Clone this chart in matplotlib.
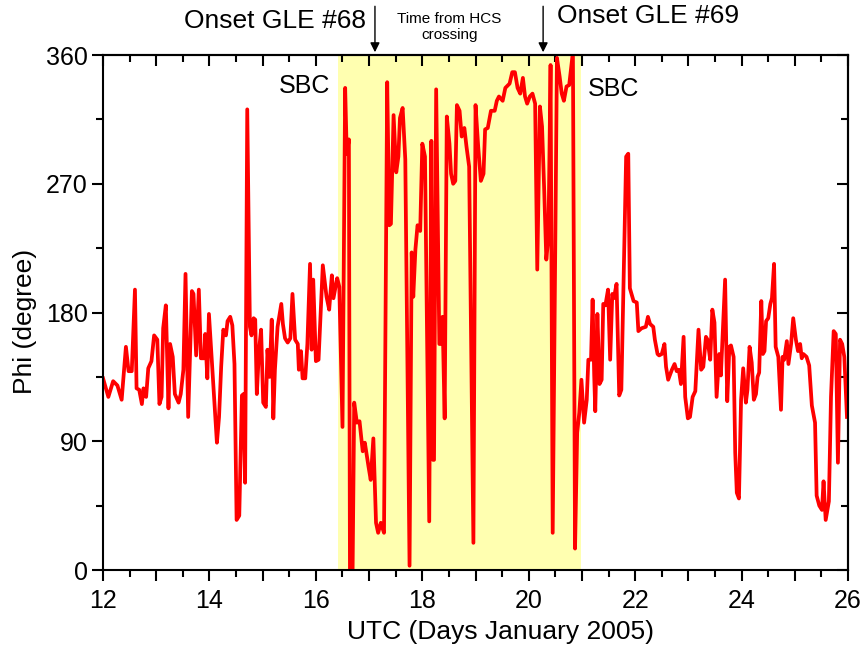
import matplotlib

matplotlib.use("Agg")
import matplotlib.pyplot as plt
from matplotlib.ticker import MultipleLocator, FuncFormatter

plt.rcParams["font.family"] = ["Liberation Sans", "DejaVu Sans"]

# IMF azimuth angle (days of January 2005, degrees)
days = [
    12.00, 12.10, 12.19, 12.27, 12.35, 12.43, 12.48, 12.54, 12.60, 12.63, 12.68, 12.73, 12.76,
    12.81, 12.85, 12.91, 12.96, 13.02, 13.06, 13.10, 13.13, 13.18, 13.23, 13.26, 13.31, 13.35,
    13.42, 13.46, 13.51, 13.55, 13.60, 13.67, 13.70, 13.75, 13.80, 13.84, 13.90, 13.92, 13.96,
    13.99,
    14.14, 14.18, 14.22, 14.26, 14.31, 14.34, 14.39, 14.43, 14.47, 14.51, 14.56, 14.61, 14.64,
    14.67, 14.71, 14.76, 14.79, 14.83, 14.86, 14.89, 14.93, 14.97, 15.01, 15.06, 15.09, 15.13,
    15.17, 15.20, 15.23, 15.28, 15.35, 15.38, 15.42, 15.47, 15.52, 15.56, 15.61, 15.66, 15.68,
    15.72, 15.75, 15.80, 15.84,
    15.89, 15.92, 15.95, 16.00, 16.05, 16.13, 16.20, 16.25, 16.30, 16.33, 16.36, 16.40, 16.44,
    16.50, 16.55, 16.58, 16.62, 16.64, 16.69, 16.72, 16.77, 16.82, 16.88, 16.92, 16.99, 17.03,
    17.08, 17.13, 17.17, 17.22, 17.28, 17.34, 17.38, 17.41, 17.46, 17.51, 17.55, 17.58, 17.63,
    17.68, 17.76, 17.80, 17.83, 17.87, 17.91,
    17.96, 18.00, 18.05, 18.13, 18.17, 18.20, 18.22, 18.26, 18.32, 18.35, 18.38, 18.42, 18.46,
    18.51, 18.54, 18.58, 18.62, 18.65, 18.70, 18.74, 18.79, 18.83, 18.88, 18.96, 19.00, 19.05,
    19.10, 19.15, 19.18, 19.23, 19.29, 19.36, 19.40, 19.44, 19.51, 19.56, 19.64, 19.69, 19.74,
    19.79, 19.84,
    19.89, 19.93, 19.97, 20.02, 20.07, 20.12, 20.16, 20.21, 20.25, 20.29, 20.33, 20.37, 20.41,
    20.45, 20.53, 20.58, 20.62, 20.66, 20.71, 20.76, 20.83, 20.87, 20.91, 20.95, 20.99, 21.04,
    21.09, 21.12, 21.17, 21.20, 21.23, 21.25, 21.29, 21.33, 21.37, 21.40, 21.44, 21.49, 21.53,
    21.57, 21.60, 21.65, 21.70, 21.74, 21.83, 21.87,
    21.90, 21.97, 22.03, 22.06, 22.12, 22.20, 22.24, 22.28, 22.34, 22.37, 22.42, 22.45, 22.50,
    22.55, 22.58, 22.62, 22.69, 22.74, 22.78, 22.82, 22.86, 22.91, 22.94, 22.99, 23.03, 23.08,
    23.13, 23.19, 23.24, 23.28, 23.33, 23.36, 23.41, 23.45, 23.49, 23.53, 23.58, 23.61, 23.69,
    23.73, 23.77, 23.80, 23.85,
    23.88, 23.91, 23.95, 23.99, 24.03, 24.08, 24.11, 24.15, 24.19, 24.23, 24.27, 24.30, 24.33,
    24.37, 24.40, 24.43, 24.46, 24.50, 24.54, 24.57, 24.61, 24.64, 24.69, 24.74, 24.77, 24.80,
    24.85, 24.88, 24.93, 24.97, 25.02, 25.06, 25.10, 25.13, 25.16, 25.22, 25.27, 25.32, 25.38,
    25.41, 25.46, 25.51, 25.54, 25.58, 25.64, 25.68, 25.73, 25.77, 25.81, 25.85, 25.89, 25.93,
    25.98,
]
phi = [
    134, 121, 132, 129, 119, 156, 139, 139, 196, 127, 126, 116, 127,
    121, 141, 146, 164, 161, 116, 121, 169, 185, 113, 158, 149, 123,
    117, 123, 140, 207, 107, 195, 193, 150, 196, 148, 148, 165, 134,
    179,
    89, 107, 142, 168, 164, 174, 177, 171, 144, 35, 38, 122, 123,
    61, 322, 170, 164, 176, 175, 123, 153, 168, 117, 114, 154, 135,
    175, 106, 140, 170, 186, 172, 162, 159, 162, 193, 161, 158, 140,
    153, 134, 134, 158,
    214, 154, 203, 146, 147, 213, 191, 182, 206, 190, 196, 204, 198,
    100, 337, 291, 301, 0, 0, 117, 103, 104, 83, 89, 72, 63,
    92, 33, 26, 33, 26, 341, 241, 242, 318, 278, 289, 316, 323,
    287, 3, 222, 191, 224, 241,
    237, 298, 289, 34, 300, 77, 77, 336, 158, 158, 177, 106, 317,
    298, 277, 270, 272, 325, 321, 303, 309, 296, 282, 19, 325, 296,
    272, 277, 308, 309, 321, 321, 328, 331, 328, 337, 340, 348, 348,
    337, 333,
    344, 331, 326, 331, 333, 326, 210, 324, 310, 266, 217, 233, 353,
    26, 358, 345, 333, 328, 338, 339, 362, 15, 96, 110, 133, 103,
    119, 147, 147, 189, 136, 111, 179, 130, 133, 186, 185, 196, 147,
    193, 190, 200, 122, 126, 289, 291,
    197, 188, 187, 167, 169, 170, 177, 172, 170, 161, 151, 150, 151,
    158, 142, 133, 140, 144, 139, 140, 130, 163, 121, 106, 107, 121,
    125, 168, 140, 142, 163, 161, 147, 182, 173, 121, 151, 136, 203,
    118, 156, 157, 149,
    82, 54, 50, 119, 141, 117, 126, 156, 145, 119, 123, 135, 138,
    188, 151, 153, 174, 176, 186, 190, 214, 156, 149, 112, 149, 147,
    160, 144, 158, 176, 161, 153, 158, 148, 151, 149, 143, 115, 103,
    52, 45, 42, 62, 35, 48, 121, 167, 165, 75, 161, 158, 149,
    107,
]

hcs_span = [16.42, 20.98]        # time from HCS crossing (shaded)
gle_onsets = [17.11, 20.27]      # GLE #68 and GLE #69 onsets
gle_labels = ["Onset GLE #68", "Onset GLE #69"]
sbc_days = [16.27, 21.11]

fig = plt.figure(figsize=(8.68, 6.51), dpi=100)
ax = fig.add_axes([0.1187, 0.1244, 0.8583, 0.7911])

ax.axvspan(hcs_span[0], hcs_span[1], color="#ffffb0", lw=0, zorder=0)
ax.plot(days, phi, color="#ff0000", lw=2.7, zorder=2)

ax.set_xlim(12, 26)
ax.set_ylim(0, 360)
ax.xaxis.set_major_locator(MultipleLocator(1))
ax.xaxis.set_minor_locator(MultipleLocator(0.5))
ax.xaxis.set_major_formatter(FuncFormatter(lambda v, p: f"{v:.0f}" if round(v) % 2 == 0 else ""))
ax.yaxis.set_major_locator(MultipleLocator(90))
ax.yaxis.set_minor_locator(MultipleLocator(45))

for s in ax.spines.values():
    s.set_linewidth(1.5)
ax.tick_params(which="both", direction="out", width=1.5, labelsize=18,
               top=False, right=False)
ax.tick_params(which="major", length=8)
ax.tick_params(which="minor", length=5)
ax.tick_params(axis="x", pad=6)
ax.tick_params(axis="y", pad=3)

# mirrored axes carry inward ticks only
top = ax.secondary_xaxis("top")
top.xaxis.set_major_locator(MultipleLocator(1))
top.xaxis.set_minor_locator(MultipleLocator(0.5))
top.tick_params(which="both", direction="in", width=1.5, labeltop=False)
top.tick_params(which="major", length=8)
top.tick_params(which="minor", length=5)
right = ax.secondary_yaxis("right")
right.yaxis.set_major_locator(MultipleLocator(90))
right.yaxis.set_minor_locator(MultipleLocator(45))
right.tick_params(which="both", direction="in", width=1.5, labelright=False)
right.tick_params(which="major", length=8)
right.tick_params(which="minor", length=5)
for sec in (top, right):
    for s in sec.spines.values():
        s.set_linewidth(1.5)

ax.set_xlabel("UTC (Days January 2005)", fontsize=19)
ax.set_ylabel("Phi (degree)", fontsize=19)
ax.xaxis.set_label_coords(0.534, -0.098)
ax.yaxis.set_label_coords(-0.088, 0.482)

ax.text(sbc_days[0], 338, "SBC", fontsize=18, ha="right", va="center")
ax.text(sbc_days[1], 336, "SBC", fontsize=18, ha="left", va="center")

for d in gle_onsets:
    ax.annotate("", xy=(d, 360), xycoords="data", xytext=(d, 1.1), textcoords=("data", "axes fraction"),
                arrowprops=dict(arrowstyle="-|>", color="black", lw=1.0, mutation_scale=14),
                annotation_clip=False)
ax.text(gle_onsets[0] - 0.17, 1.066, gle_labels[0], transform=ax.get_xaxis_transform(),
        fontsize=19, ha="right", va="center")
ax.text(gle_onsets[1] + 0.27, 1.076, gle_labels[1], transform=ax.get_xaxis_transform(),
        fontsize=19, ha="left", va="center")
ax.text(18.51, 1.055, "Time from HCS\ncrossing", transform=ax.get_xaxis_transform(),
        fontsize=11, ha="center", va="center", linespacing=1.2)

fig.savefig("out.png", dpi=100)
